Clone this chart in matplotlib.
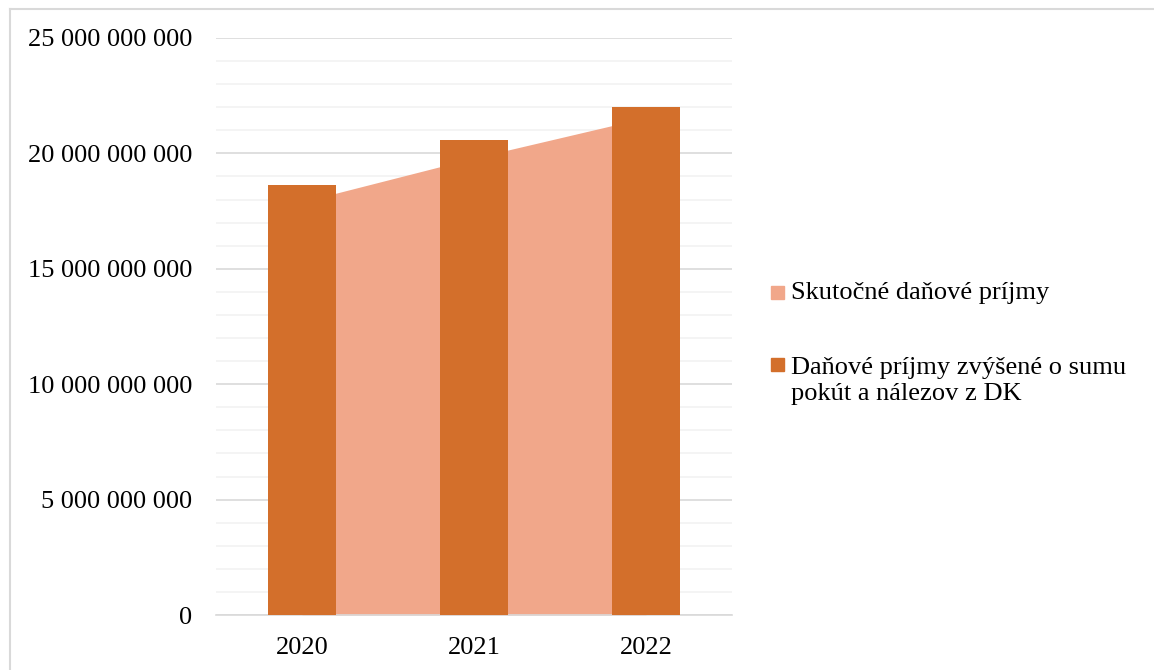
import matplotlib.pyplot as plt
from matplotlib.lines import Line2D
from matplotlib.patches import Rectangle
from matplotlib.ticker import FuncFormatter, MultipleLocator

plt.rcParams["font.family"] = ["Liberation Serif", "DejaVu Serif"]

years = ["2020", "2021", "2022"]
actual_revenue = [17.9e9, 19.8e9, 21.55e9]
revenue_with_fines = [18.63e9, 20.57e9, 22.02e9]
series_labels = [
    "Skutočné daňové príjmy",
    "Daňové príjmy zvýšené o sumu\npokút a nálezov z DK",
]

AREA_COLOR = "#F1A78A"
BAR_COLOR = "#D36F2B"
W, H = 1154, 670

fig = plt.figure(figsize=(W / 100, H / 100), dpi=100)
ax = fig.add_axes([216 / W, 55 / H, 516 / W, 577 / H])

x = list(range(len(years)))
ax.fill_between(x, actual_revenue, color=AREA_COLOR, linewidth=0, zorder=2)
ax.bar(x, revenue_with_fines, width=0.4, color=BAR_COLOR, zorder=3)

ax.set_xlim(-0.5, 2.5)
ax.set_ylim(0, 25e9)
ax.yaxis.set_major_locator(MultipleLocator(5e9))
ax.yaxis.set_minor_locator(MultipleLocator(1e9))
ax.yaxis.set_major_formatter(
    FuncFormatter(lambda v, _: f"{v:,.0f}".replace(",", " "))
)
ax.grid(axis="y", which="minor", color="#F2F2F2", linewidth=1.2, zorder=0)
ax.grid(axis="y", which="major", color="#D9D9D9", linewidth=1.2, zorder=1)
ax.set_axisbelow(True)

ax.set_xticks(x)
ax.set_xticklabels(years)
ax.tick_params(axis="both", which="both", length=0, labelsize=19)
ax.tick_params(axis="y", pad=17)
ax.tick_params(axis="x", pad=16)
for side in ("top", "right", "left"):
    ax.spines[side].set_visible(False)
ax.spines["bottom"].set_color("#D9D9D9")
ax.spines["bottom"].set_linewidth(1.2)

# legend on the right: colour squares + labels, positions in pixels from the top
legend_rows = [(292.5, 292.5), (364.5, 381)]  # (square centre, text centre)
for (sq_y, txt_y), color, label in zip(legend_rows, [AREA_COLOR, BAR_COLOR], series_labels):
    fig.add_artist(Rectangle((771 / W, 1 - (sq_y + 6.5) / H), 13 / W, 13 / H,
                             transform=fig.transFigure, color=color))
    fig.text(791 / W, 1 - txt_y / H, label, fontsize=19, va="center",
             ha="left", linespacing=1.2)

# chart frame (only left and top edges are visible)
fig.add_artist(Line2D([9.5 / W, 9.5 / W], [0, 1 - 9 / H],
                      transform=fig.transFigure, color="#D9D9D9", linewidth=1.5))
fig.add_artist(Line2D([9.5 / W, 1], [1 - 9 / H, 1 - 9 / H],
                      transform=fig.transFigure, color="#D9D9D9", linewidth=1.5))

fig.savefig("out.png", dpi=100)
